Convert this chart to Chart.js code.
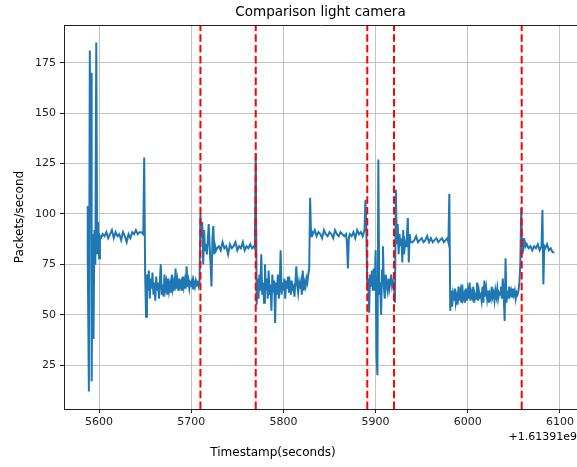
<!DOCTYPE html>
<html>
<head>
<meta charset="utf-8">
<script src="https://cdn.jsdelivr.net/npm/chart.js@4.4.1/dist/chart.umd.min.js"></script>
<style>
  html, body { margin: 0; padding: 0; background: #fff; overflow: hidden; }
  canvas { display: block; }
</style>
</head>
<body>
<canvas id="myChart" width="577" height="467"></canvas>
<script>
// seconds after the offset 1.61391e9
const times = [
  5587, 5587.5, 5588, 5589, 5590, 5591, 5591.5, 5592, 5593, 5594,
  5595, 5596, 5597, 5598, 5599, 5600, 5601, 5602, 5604, 5606,
  5608, 5610, 5612, 5614, 5616, 5618, 5620, 5622, 5624, 5626,
  5628, 5630, 5632, 5634, 5636, 5638, 5640, 5642, 5644, 5646,
  5648, 5649, 5650, 5651, 5652, 5653, 5654, 5655, 5656, 5657,
  5658, 5659, 5660, 5661, 5662, 5663, 5664, 5665, 5666, 5667,
  5668, 5669, 5670, 5671, 5672, 5673, 5674, 5675, 5676, 5677,
  5678, 5679, 5680, 5681, 5682, 5683, 5684, 5685, 5686, 5687,
  5688, 5689, 5690, 5691, 5692, 5693, 5694, 5695, 5696, 5697,
  5698, 5699, 5700, 5701, 5702, 5703, 5704, 5705, 5706, 5707,
  5708, 5709, 5710, 5711, 5712, 5713, 5714, 5715, 5716, 5717,
  5718, 5719, 5720, 5721, 5722, 5723, 5724, 5725, 5726, 5727,
  5728, 5730, 5732, 5734, 5736, 5738, 5740, 5742, 5744, 5746,
  5748, 5750, 5752, 5754, 5756, 5758, 5760, 5762, 5764, 5766,
  5768, 5769, 5770, 5771, 5772, 5773, 5774, 5775, 5776, 5777,
  5778, 5779, 5780, 5781, 5782, 5783, 5784, 5785, 5786, 5787,
  5788, 5789, 5790, 5791, 5792, 5793, 5794, 5795, 5796, 5797,
  5798, 5799, 5800, 5801, 5802, 5803, 5804, 5805, 5806, 5807,
  5808, 5809, 5810, 5811, 5812, 5813, 5814, 5815, 5816, 5817,
  5818, 5819, 5820, 5821, 5822, 5823, 5824, 5825, 5826, 5827,
  5828, 5829, 5830, 5831, 5832, 5834, 5836, 5838, 5840, 5842,
  5844, 5846, 5848, 5850, 5852, 5854, 5856, 5858, 5860, 5862,
  5864, 5866, 5868, 5869, 5870, 5871, 5872, 5874, 5876, 5878,
  5880, 5882, 5884, 5886, 5888, 5889, 5890, 5891, 5892, 5893,
  5894, 5895, 5896, 5897, 5898, 5899, 5900, 5901, 5902, 5903,
  5904, 5905, 5906, 5907, 5908, 5909, 5910, 5911, 5912, 5913,
  5914, 5915, 5916, 5917, 5918, 5919, 5920, 5921, 5922, 5923,
  5924, 5925, 5926, 5927, 5928, 5929, 5930, 5931, 5932, 5933,
  5934, 5935, 5936, 5937, 5938, 5940, 5942, 5944, 5946, 5948,
  5950, 5952, 5954, 5956, 5958, 5960, 5962, 5964, 5966, 5968,
  5970, 5972, 5974, 5976, 5978, 5979, 5980, 5981, 5982, 5983,
  5984, 5985, 5986, 5987, 5988, 5989, 5990, 5991, 5992, 5993,
  5994, 5995, 5996, 5997, 5998, 5999, 6000, 6001, 6002, 6003,
  6004, 6005, 6006, 6007, 6008, 6009, 6010, 6011, 6012, 6013,
  6014, 6015, 6016, 6017, 6018, 6019, 6020, 6021, 6022, 6023,
  6024, 6025, 6026, 6027, 6028, 6029, 6030, 6031, 6032, 6033,
  6034, 6035, 6036, 6037, 6038, 6039, 6040, 6041, 6042, 6043,
  6044, 6045, 6046, 6047, 6048, 6049, 6050, 6051, 6052, 6053,
  6054, 6055, 6056, 6057, 6058, 6059, 6060, 6061, 6062, 6063,
  6064, 6066, 6068, 6070, 6072, 6074, 6076, 6078, 6080, 6081,
  6082, 6083, 6084, 6086, 6088, 6090, 6092, 6094
];

const packets = [
  76, 104, 80, 12, 181, 100, 170, 17, 90, 38,
  92, 75, 185, 80, 96, 78, 89, 88, 90, 89,
  91, 88, 90, 92, 88, 91, 89, 90, 87, 91,
  89, 86, 90, 88, 91, 90, 92, 90, 91, 91,
  90, 128, 71, 49, 70, 62, 72, 58, 68, 63,
  71, 60, 66, 57, 69, 62, 66, 58, 67, 75,
  60, 65, 59, 70, 63, 66, 60, 68, 62, 65,
  61, 70, 63, 66, 62, 73, 63, 67, 62, 68,
  64, 66, 62, 69, 64, 67, 63, 74, 64, 67,
  63, 66, 65, 67, 63, 66, 64, 67, 65, 66,
  64, 66, 100, 88, 96, 75, 92, 82, 85, 80,
  87, 95, 84, 75, 64, 88, 94, 80, 84, 82,
  83, 84, 82, 86, 83, 84, 80, 85, 83, 84,
  86, 82, 84, 83, 86, 82, 84, 83, 85, 83,
  84, 83, 130, 55, 68, 58, 70, 62, 80, 60,
  66, 56, 75, 62, 68, 58, 72, 60, 65, 52,
  70, 61, 67, 46, 66, 60, 70, 58, 64, 82,
  60, 66, 62, 68, 58, 67, 63, 69, 61, 65,
  60, 67, 63, 64, 59, 66, 74, 65, 61, 66,
  63, 66, 60, 72, 62, 66, 64, 68, 66, 70,
  73, 108, 89, 91, 90, 92, 89, 91, 90, 88,
  92, 90, 89, 91, 90, 88, 92, 90, 89, 91,
  90, 89, 90, 85, 73, 88, 90, 89, 91, 88,
  92, 90, 91, 89, 92, 107, 92, 62, 68, 51,
  70, 64, 72, 62, 73, 62, 82, 30, 20, 127,
  60, 66, 50, 72, 84, 64, 58, 70, 65, 62,
  68, 63, 66, 70, 64, 66, 64, 56, 112, 85,
  95, 80, 90, 84, 88, 76, 92, 80, 86, 84,
  89, 98, 76, 90, 86, 86, 87, 89, 86, 87,
  88, 86, 87, 89, 86, 88, 86, 87, 88, 86,
  87, 88, 86, 87, 88, 86, 110, 52, 62, 54,
  60, 57, 63, 56, 59, 55, 64, 57, 61, 56,
  65, 58, 60, 56, 63, 57, 62, 58, 66, 57,
  61, 59, 64, 56, 60, 58, 66, 57, 62, 59,
  60, 57, 64, 56, 67, 59, 63, 58, 62, 56,
  60, 58, 64, 59, 61, 57, 62, 59, 63, 58,
  61, 60, 64, 58, 68, 60, 47, 78, 56, 62,
  58, 64, 60, 62, 59, 63, 60, 62, 58, 61,
  60, 62, 66, 75, 103, 80, 88, 84, 86, 84,
  85, 83, 84, 82, 84, 83, 85, 82, 84, 102,
  65, 84, 83, 85, 82, 83, 81, 81
];

// red dashed markers
const markers = [5710, 5770, 5891, 5920, 6058.5];

const xTicks = [5600, 5700, 5800, 5900, 6000, 6100];
const yTicks = [25, 50, 75, 100, 125, 150, 175];
const xMin = 5562, xMax = 6118.5;
const yMin = 3.3, yMax = 193.7;

const chartTitle = "Comparison light camera";
const xLabel = "Timestamp(seconds)";
const yLabel = "Packets/second";
const offsetText = "+1.61391e9";

const font = '"DejaVu Sans", sans-serif';

const seriesData = times.map((t, i) => ({ x: t, y: packets[i] }));

const markerSets = markers.map((m) => ({
  data: [{ x: m, y: yMin }, { x: m, y: yMax }],
  borderColor: "#ff0000",
  borderWidth: 2,
  borderDash: [7.5, 3.3],
  pointRadius: 0,
  order: 0,
}));

// texts + top spine, matplotlib style
const decorations = {
  id: "decorations",
  afterDraw(chart) {
    const { ctx, chartArea: a } = chart;
    ctx.save();
    ctx.strokeStyle = "#222";
    ctx.lineWidth = 1;
    ctx.beginPath();
    ctx.moveTo(a.left, a.top + 0.5);
    ctx.lineTo(a.right, a.top + 0.5);
    ctx.stroke();

    ctx.fillStyle = "#000";
    ctx.textAlign = "center";
    ctx.textBaseline = "middle";
    ctx.font = "13.5px " + font;
    ctx.fillText(chartTitle, (a.left + a.right) / 2, 12);

    ctx.font = "12px " + font;
    ctx.fillText(xLabel, 273, 453);

    ctx.font = "11px " + font;
    ctx.textAlign = "right";
    ctx.fillText(offsetText, 577, 437);

    ctx.font = "12px " + font;
    ctx.textAlign = "center";
    ctx.translate(20, (a.top + a.bottom) / 2);
    ctx.rotate(-Math.PI / 2);
    ctx.fillText(yLabel, 0, 0);
    ctx.restore();
  },
};

const ctx = document.getElementById("myChart");

new Chart(ctx, {
  type: "line",
  data: {
    datasets: [
      ...markerSets,
      {
        label: "packets",
        data: seriesData,
        borderColor: "#1f77b4",
        borderWidth: 2,
        pointRadius: 0,
        tension: 0,
        order: 1,
      },
    ],
  },
  options: {
    responsive: false,
    animation: false,
    devicePixelRatio: 1,
    events: [],
    layout: { padding: { top: 25, left: 0, right: 0, bottom: 0 } },
    scales: {
      x: {
        type: "linear",
        min: xMin,
        max: xMax,
        afterBuildTicks: (scale) => {
          scale.ticks = xTicks.map((v) => ({ value: v }));
        },
        afterFit: (scale) => {
          scale.height = 58;
        },
        grid: { color: "#c4c4c4", lineWidth: 1, tickLength: 4, tickColor: "#222" },
        border: { color: "#222", width: 1 },
        ticks: {
          color: "#222",
          font: { family: font, size: 11 },
          padding: 3,
          maxRotation: 0,
          autoSkip: false,
          callback: (v) => String(v),
        },
      },
      y: {
        min: yMin,
        max: yMax,
        afterBuildTicks: (scale) => {
          scale.ticks = yTicks.map((v) => ({ value: v }));
        },
        afterFit: (scale) => {
          scale.width = 64;
        },
        grid: { color: "#c4c4c4", lineWidth: 1, tickLength: 4, tickColor: "#222" },
        border: { color: "#222", width: 1 },
        ticks: {
          color: "#222",
          font: { family: font, size: 11 },
          padding: 4,
          autoSkip: false,
          callback: (v) => String(v),
        },
      },
    },
    plugins: {
      legend: { display: false },
      tooltip: { enabled: false },
      title: { display: false },
    },
  },
  plugins: [decorations],
});
</script>
</body>
</html>
